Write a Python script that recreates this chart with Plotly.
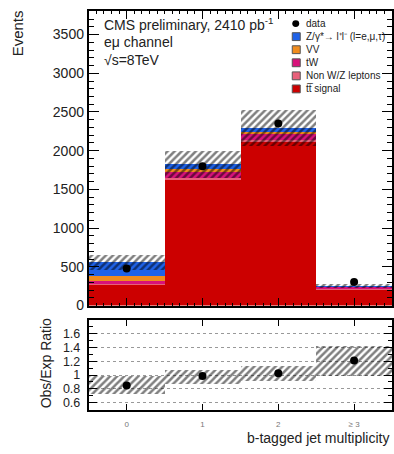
import numpy as np
import plotly.graph_objects as go
from plotly.subplots import make_subplots

# ---------------- data ----------------
categories = [0, 1, 2, 3]
tick_labels = ["0", "1", "2", "\u2265 3"]
ttbar = [275, 1628, 2110, 215]
nonwz = [5, 26, 30, 4]
tw = [45, 72, 80, 25]
vv = [55, 40, 30, 2]
dy = [180, 59, 43, 6]
data_obs = [478, 1798, 2350, 305]
mc_unc = [100, 170, 233, 25]

ratio_val = [0.85, 0.985, 1.025, 1.21]
ratio_lo = [0.73, 0.88, 0.92, 0.985]
ratio_hi = [0.985, 1.07, 1.13, 1.43]

# ---------------- style ----------------
W, H = 394, 454
FONT = "Liberation Sans, Arial, Helvetica, sans-serif"
components = [
    ("tt\u0305 signal", ttbar, "#cc0000"),
    ("Non W/Z leptons", nonwz, "#e8607a"),
    ("tW", tw, "#d8127a"),
    ("VV", vv, "#f08c1e"),
    ("Z/\u03b3*\u2192 l\u207al\u207b (l=e,\u03bc,\u03c4)", dy, "#1f62e8"),
]

def px(x):
    return x / W

def py(y):
    return 1 - y / H

fig = make_subplots(rows=2, cols=1)
fig.update_layout(
    xaxis=dict(domain=[px(89), px(393)]),
    yaxis=dict(domain=[py(311), py(11)]),
    xaxis2=dict(domain=[px(89), px(393)]),
    yaxis2=dict(domain=[py(417), py(325.5)]),
)

base = np.zeros(len(categories))
for name, vals, col in components:
    v = np.array(vals, dtype=float)
    fig.add_trace(go.Bar(x=categories, y=v, base=base.copy(), width=1.0,
                         marker=dict(color=col, line=dict(width=0)),
                         name=name, showlegend=False), row=1, col=1)
    base = base + v
total = base
unc = np.array(mc_unc, dtype=float)
hatch = dict(color="rgba(0,0,0,0)", line=dict(width=0),
             pattern=dict(shape="/", fgcolor="black", bgcolor="rgba(0,0,0,0)",
                          size=5, solidity=0.5))
fig.add_trace(go.Bar(x=categories, y=2 * unc, base=total - unc, width=1.0,
                     marker=hatch, showlegend=False), row=1, col=1)
fig.add_trace(go.Scatter(x=categories, y=data_obs, mode="markers",
                         marker=dict(color="black", size=8),
                         error_y=dict(type="data", array=np.sqrt(data_obs), color="black",
                                      thickness=1, width=0),
                         showlegend=False), row=1, col=1)

# ratio
lo = np.array(ratio_lo)
hi = np.array(ratio_hi)
fig.add_trace(go.Bar(x=categories, y=hi - lo, base=lo, width=1.0,
                     marker=hatch, showlegend=False), row=2, col=1)
fig.add_trace(go.Scatter(x=categories, y=ratio_val, mode="markers",
                         marker=dict(color="black", size=8), showlegend=False),
              row=2, col=1)

fig.update_layout(
    width=W, height=H, margin=dict(l=0, r=0, t=0, b=0),
    paper_bgcolor="white", plot_bgcolor="white",
    barmode="overlay", bargap=0,
    font=dict(family=FONT, color="#222"),
)

axis_common = dict(showline=True, linecolor="black", linewidth=2, mirror="allticks",
                   ticks="inside", tickcolor="black", zeroline=False)
fig.update_xaxes(range=[-0.5, 3.5], **axis_common)
fig.update_xaxes(row=1, col=1, tickvals=categories, showticklabels=False, ticklen=8,
                 minor=dict(ticks="inside", dtick=0.1, tick0=-0.5, ticklen=3, tickcolor="black"),
                 showgrid=False)
fig.update_xaxes(row=2, col=1, tickvals=categories, ticktext=tick_labels, ticklen=6,
                 tickfont=dict(size=8, color="#777"), ticklabelstandoff=6, showgrid=False)
fig.update_yaxes(row=1, col=1, range=[0, 3807], dtick=500, tick0=0, ticklen=10,
                 tickfont=dict(size=14, color="#222"), showgrid=False,
                 minor=dict(ticks="inside", dtick=100, ticklen=5, tickcolor="black"),
                 **axis_common)
fig.update_yaxes(row=2, col=1, range=[0.5, 1.8], tickvals=[0.6, 0.8, 1.0, 1.2, 1.4, 1.6],
                 ticktext=["0.6", "0.8", "1", "1.2", "1.4", "1.6"], ticklen=8,
                 tickfont=dict(size=12.5, color="#222"), ticklabelstandoff=4,
                 showgrid=True, gridcolor="#999",
                 griddash="dot", gridwidth=1,
                 minor=dict(ticks="inside", dtick=0.1, ticklen=4, tickcolor="black"),
                 **axis_common)

ann = []
def text(x, y, s, size, xanchor="left", angle=0, color="#222"):
    ann.append(dict(x=px(x), y=py(y), xref="paper", yref="paper", text=s, showarrow=False,
                    xanchor=xanchor, yanchor="middle", textangle=angle,
                    font=dict(size=size, color=color, family=FONT)))

text(17, 34, "Events", 15, xanchor="center", angle=-90)
text(47, 370, "Obs/Exp Ratio", 14, xanchor="center", angle=-90)
text(392, 446, "b-tagged jet multiplicity", 14, xanchor="right")
text(102, 24, "CMS preliminary, 2410 pb<sup>-1</sup>", 14)
text(102, 43, "e\u03bc channel", 14)
text(102, 61, "\u221as=8TeV", 14)

shapes = []
legend_rows = [("data", None)] + [(c[0], c[2]) for c in components[::-1]]
for i, (name, col) in enumerate(legend_rows):
    yc = 24 + 13.3 * i
    if col is None:
        shapes.append(dict(type="circle", xref="paper", yref="paper",
                           x0=px(293), x1=px(300), y0=py(yc + 3.5), y1=py(yc - 3.5),
                           fillcolor="black", line=dict(width=0)))
    else:
        shapes.append(dict(type="rect", xref="paper", yref="paper",
                           x0=px(293), x1=px(301), y0=py(yc + 4), y1=py(yc - 4),
                           fillcolor=col, line=dict(color="#555", width=1)))
    text(305, yc, name, 10)

fig.update_layout(annotations=ann, shapes=shapes)
fig.write_html("out.html")
